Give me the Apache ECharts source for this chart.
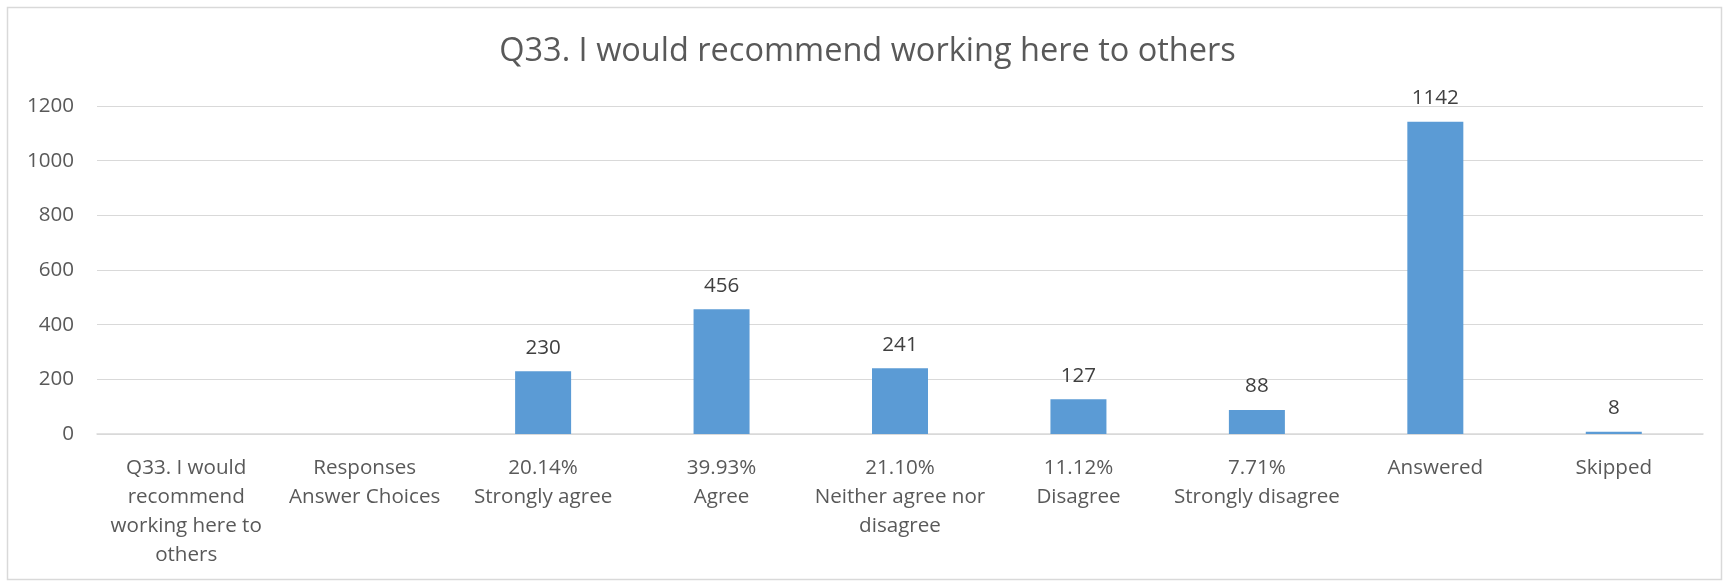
<!DOCTYPE html>
<html>
<head>
<meta charset="utf-8">
<script src="https://cdn.jsdelivr.net/npm/echarts@6/dist/echarts.min.js"></script>
<style>
  html, body { margin: 0; padding: 0; background: #ffffff; }
  #chart { width: 1735px; height: 582px; }
</style>
</head>
<body>
<div id="chart"></div>
<script>
// Survey question and answer tallies
const chartTitle = 'Q33. I would recommend working here to others';
const categories = [
  'Q33. I would\nrecommend\nworking here to\nothers',
  'Responses\nAnswer Choices',
  '20.14%\nStrongly agree',
  '39.93%\nAgree',
  '21.10%\nNeither agree nor\ndisagree',
  '11.12%\nDisagree',
  '7.71%\nStrongly disagree',
  'Answered',
  'Skipped'
];
const counts = [null, null, 230, 456, 241, 127, 88, 1142, 8];
const yTicks = { min: 0, max: 1200, interval: 200 };

const FONT = '"Open Sans", "Liberation Sans", sans-serif';

const chart = echarts.init(document.getElementById('chart'), null, { renderer: 'canvas' });

chart.setOption({
  backgroundColor: '#ffffff',
  animation: false,
  title: {
    text: chartTitle,
    left: 'center',
    top: 30,
    textStyle: { fontFamily: FONT, fontSize: 32.5, fontWeight: 'normal', color: '#595959' }
  },
  graphic: [{
    type: 'rect',
    shape: { x: 7.5, y: 7.5, width: 1714, height: 572 },
    style: { fill: 'none', stroke: '#d9d9d9', lineWidth: 1.5 },
    silent: true,
    z: -1
  }],
  grid: { left: 97, right: 32, top: 106, bottom: 148, containLabel: false },
  xAxis: {
    type: 'category',
    data: categories,
    axisLine: { show: true, lineStyle: { color: '#d9d9d9', width: 1.5 } },
    axisTick: { show: false },
    axisLabel: {
      interval: 0,
      margin: 20,
      fontFamily: FONT,
      fontSize: 20.6,
      lineHeight: 29,
      color: '#595959',
      align: 'center'
    },
    splitLine: { show: false }
  },
  yAxis: {
    type: 'value',
    min: yTicks.min,
    max: yTicks.max,
    interval: yTicks.interval,
    axisLine: { show: false },
    axisTick: { show: false },
    axisLabel: {
      margin: 23,
      fontFamily: FONT,
      fontSize: 20.6,
      color: '#595959',
      formatter: (v) => String(v)
    },
    splitLine: { show: true, lineStyle: { color: '#d9d9d9', width: 1.2 } }
  },
  series: [{
    type: 'bar',
    data: counts,
    barWidth: 56,
    itemStyle: { color: '#5b9bd5' },
    label: {
      show: true,
      position: 'top',
      distance: 13,
      fontFamily: FONT,
      fontSize: 20.6,
      color: '#404040'
    }
  }]
});
</script>
</body>
</html>
